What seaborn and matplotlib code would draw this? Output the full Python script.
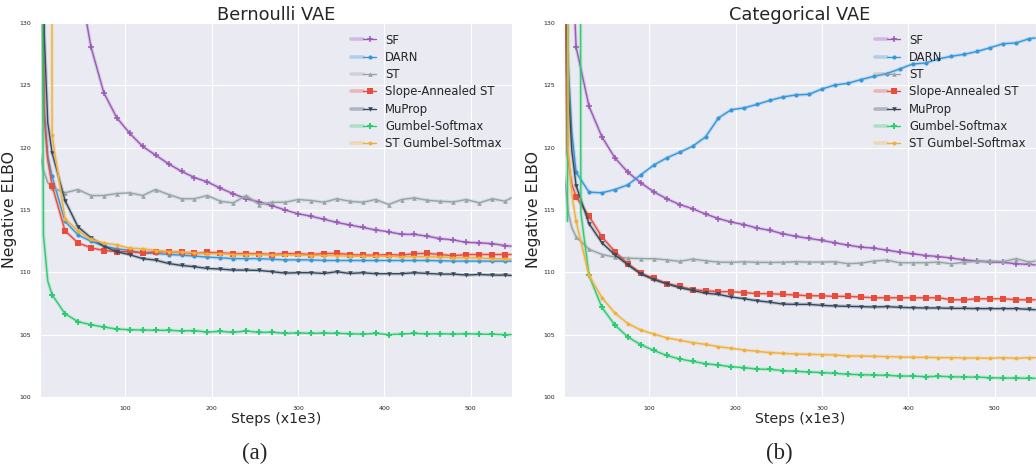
import numpy as np
import matplotlib
matplotlib.use("Agg")
import matplotlib.pyplot as plt
from matplotlib.lines import Line2D
from matplotlib.legend_handler import HandlerTuple
import seaborn as sns

# ---------------- data ----------------
STEPS = list(range(15, 541, 15))          # marker steps (x1e3)
END_STEP = 547
XLIM = (1, 548)
YLIM = (100, 130)
YTICKS = [100, 105, 110, 115, 120, 125, 130]
XTICKS = [100, 200, 300, 400, 500]

LABELS = ["SF", "DARN", "ST", "Slope-Annealed ST", "MuProp",
          "Gumbel-Softmax", "ST Gumbel-Softmax"]
COLORS = ["#9b59b6", "#3498db", "#95a5a6", "#e74c3c", "#34495e",
          "#2ecc71", "#f2b03a"]
MARKERS = ["+", "o", "^", "s", "v", "P", "p"]
MSIZES = [4.0, 3.0, 3.3, 4.2, 3.3, 4.2, 3.2]

# ---- Bernoulli VAE ----
bern_sf = [160, 142, 134, 128.1, 124.4, 122.4, 121.15, 120.1, 119.4, 118.7, 118.1, 117.6,
           117.25, 116.75, 116.3, 115.9, 115.65, 115.35, 115.0, 114.7, 114.5, 114.26, 114.0,
           113.8, 113.6, 113.4, 113.25, 113.05, 113.04, 112.9, 112.7, 112.6, 112.4, 112.37,
           112.3, 112.15]
bern_sf_extra_x, bern_sf_extra_y = [END_STEP], [112.1]

bern_darn = [117.7, 114.1, 113.0, 112.5, 112.1, 111.89, 111.75, 111.54, 111.52, 111.43,
             111.38, 111.3, 111.22, 111.17, 111.1, 111.1, 111.1, 111.05, 111.0, 111.0, 111.0,
             110.95, 110.95, 110.95, 110.95, 110.95, 110.95, 110.95, 110.95, 110.95, 110.93,
             110.9, 110.9, 110.9, 110.9, 110.9]
bern_darn_extra_x, bern_darn_extra_y = [3, 5.5, 10, END_STEP], [140, 123.5, 119.3, 110.9]

bern_st = [116.8, 116.38, 116.64, 116.16, 116.16, 116.32, 116.38, 116.16, 116.64, 116.24,
           115.9, 115.9, 116.16, 115.7, 115.57, 116.16, 115.44, 115.62, 115.62, 115.84,
           115.76, 115.62, 115.9, 115.7, 115.62, 115.84, 115.44, 115.84, 115.97, 115.78,
           115.7, 115.65, 115.84, 115.57, 115.9, 115.7]
bern_st_extra_x, bern_st_extra_y = [1, 5, 10, END_STEP], [119.5, 118.2, 117.2, 115.97]

bern_slope = [116.96, 113.33, 112.37, 111.97, 111.75, 111.67, 111.65, 111.57, 111.65,
              111.65, 111.6, 111.52, 111.6, 111.57, 111.5, 111.5, 111.5, 111.43, 111.5,
              111.5, 111.43, 111.5, 111.52, 111.43, 111.38, 111.38, 111.43, 111.38, 111.5,
              111.52, 111.43, 111.33, 111.43, 111.43, 111.43, 111.43]
bern_slope_extra_x, bern_slope_extra_y = [3, 6, 10, END_STEP], [140, 122.3, 119.0, 111.43]

bern_muprop = [119.6, 115.76, 113.65, 112.77, 112.1, 111.65, 111.41, 111.1, 110.98, 110.71,
               110.55, 110.45, 110.31, 110.26, 110.18, 110.18, 110.15, 110.05, 109.94,
               109.97, 109.97, 109.91, 110.05, 109.91, 109.97, 109.89, 109.89, 109.89,
               109.97, 109.91, 109.86, 109.86, 109.78, 109.83, 109.78, 109.78]
bern_muprop_extra_x, bern_muprop_extra_y = [3, 6, 10, END_STEP], [150, 129, 122, 109.75]

bern_gumbel = [108.2, 106.68, 106.04, 105.8, 105.61, 105.45, 105.4, 105.37, 105.35, 105.35,
               105.3, 105.33, 105.2, 105.27, 105.18, 105.3, 105.18, 105.2, 105.1, 105.15,
               105.1, 105.13, 105.1, 105.08, 105.03, 105.1, 105.0, 105.05, 105.1, 105.05,
               105.08, 105.03, 105.08, 105.03, 105.03, 105.0]
bern_gumbel_extra_x, bern_gumbel_extra_y = [2, 5, 10, END_STEP], [160, 113, 109.3, 105.0]

bern_stgumbel = [121.0, 114.3, 113.33, 112.64, 112.35, 112.2, 111.94, 111.89, 111.75,
                 111.67, 111.62, 111.57, 111.5, 111.5, 111.43, 111.43, 111.43, 111.38,
                 111.38, 111.38, 111.35, 111.35, 111.33, 111.3, 111.28, 111.28, 111.28,
                 111.25, 111.25, 111.25, 111.23, 111.17, 111.17, 111.15, 111.1, 111.09]
bern_stgumbel_extra_x, bern_stgumbel_extra_y = [14, END_STEP], [200, 111.05]

# ---- Categorical VAE ----
cat_sf = [128.08, 123.32, 120.86, 119.18, 118.03, 117.18, 116.46, 115.9, 115.44, 115.1,
          114.68, 114.31, 114.03, 113.82, 113.55, 113.36, 113.09, 112.88, 112.72, 112.56,
          112.37, 112.18, 112.02, 111.94, 111.78, 111.62, 111.49, 111.35, 111.27, 111.14,
          111.0, 110.9, 110.82, 110.8, 110.69, 110.63]
cat_sf_extra_x, cat_sf_extra_y = [8, END_STEP], [140, 110.6]

cat_darn = [118.03, 116.43, 116.38, 116.64, 117.02, 117.82, 118.6, 119.18, 119.63, 120.11,
            120.86, 122.38, 123.05, 123.19, 123.48, 123.8, 124.07, 124.23, 124.28, 124.71,
            125.03, 125.16, 125.46, 125.72, 125.94, 126.31, 126.71, 126.79, 127.12, 127.33,
            127.49, 127.72, 128.02, 128.34, 128.4, 128.74]
cat_darn_extra_x, cat_darn_extra_y = [2, 5, 10, END_STEP], [145, 128, 121.3, 128.8]

cat_st = [112.85, 111.85, 111.43, 111.22, 111.14, 111.1, 111.09, 111.0, 110.88, 111.06,
          110.93, 110.82, 110.8, 110.85, 110.8, 110.8, 110.8, 110.85, 110.82, 110.82,
          110.85, 110.69, 110.74, 110.9, 110.98, 110.77, 110.77, 110.77, 110.82, 110.69,
          110.8, 110.9, 110.9, 110.87, 111.09, 110.82]
cat_st_extra_x, cat_st_extra_y = [1, 6, 10, END_STEP], [118, 114.8, 113.6, 110.9]

cat_slope = [116.05, 114.5, 112.84, 111.66, 110.69, 109.94, 109.51, 109.1, 108.87, 108.61,
             108.53, 108.45, 108.45, 108.37, 108.29, 108.29, 108.23, 108.18, 108.12, 108.12,
             108.07, 108.07, 108.02, 107.96, 107.96, 107.96, 107.96, 107.96, 107.96, 107.8,
             107.8, 107.88, 107.88, 107.88, 107.8, 107.8]
cat_slope_extra_x, cat_slope_extra_y = [2, 4.5, 10, END_STEP], [135, 119.6, 117.1, 107.8]

cat_muprop = [116.96, 113.91, 112.37, 111.4, 110.6, 109.87, 109.42, 109.08, 108.77, 108.55,
              108.33, 108.23, 108.02, 107.88, 107.72, 107.6, 107.45, 107.43, 107.43, 107.35,
              107.3, 107.27, 107.25, 107.22, 107.25, 107.19, 107.16, 107.14, 107.14, 107.11,
              107.11, 107.09, 107.09, 107.09, 107.09, 107.03]
cat_muprop_extra_x, cat_muprop_extra_y = [2, 5, 10, END_STEP], [140, 126, 119.8, 107.0]

cat_gumbel = [170, 109.75, 107.18, 105.77, 104.81, 104.2, 103.74, 103.33, 103.05, 102.86,
              102.67, 102.56, 102.43, 102.35, 102.24, 102.22, 102.11, 102.06, 102.0, 101.96,
              101.9, 101.82, 101.79, 101.76, 101.74, 101.68, 101.68, 101.63, 101.66, 101.63,
              101.6, 101.6, 101.55, 101.52, 101.52, 101.5]
cat_gumbel_extra_x, cat_gumbel_extra_y = [5, 6.5, 19.5, 20.5, END_STEP], [114.1, 170, 170, 114.8, 101.5]

cat_stgumbel = [114.1, 109.75, 107.96, 106.73, 105.89, 105.37, 105.05, 104.75, 104.55,
                104.36, 104.22, 104.04, 103.9, 103.77, 103.66, 103.56, 103.5, 103.45, 103.42,
                103.4, 103.37, 103.29, 103.29, 103.26, 103.24, 103.21, 103.18, 103.18, 103.16,
                103.16, 103.13, 103.13, 103.1, 103.16, 103.1, 103.16]
cat_stgumbel_extra_x, cat_stgumbel_extra_y = [4, 6, 10, END_STEP], [150, 119.8, 116.3, 103.15]

PANELS = [
    ("Bernoulli VAE", [
        (bern_sf, bern_sf_extra_x, bern_sf_extra_y),
        (bern_darn, bern_darn_extra_x, bern_darn_extra_y),
        (bern_st, bern_st_extra_x, bern_st_extra_y),
        (bern_slope, bern_slope_extra_x, bern_slope_extra_y),
        (bern_muprop, bern_muprop_extra_x, bern_muprop_extra_y),
        (bern_gumbel, bern_gumbel_extra_x, bern_gumbel_extra_y),
        (bern_stgumbel, bern_stgumbel_extra_x, bern_stgumbel_extra_y),
    ]),
    ("Categorical VAE", [
        (cat_sf, cat_sf_extra_x, cat_sf_extra_y),
        (cat_darn, cat_darn_extra_x, cat_darn_extra_y),
        (cat_st, cat_st_extra_x, cat_st_extra_y),
        (cat_slope, cat_slope_extra_x, cat_slope_extra_y),
        (cat_muprop, cat_muprop_extra_x, cat_muprop_extra_y),
        (cat_gumbel, cat_gumbel_extra_x, cat_gumbel_extra_y),
        (cat_stgumbel, cat_stgumbel_extra_x, cat_stgumbel_extra_y),
    ]),
]
CAPTIONS = ["(a)", "(b)"]

# ---------------- drawing ----------------
sns.set_style("darkgrid")
plt.rcParams["font.family"] = ["DejaVu Sans"]

W, H = 1036, 466
fig = plt.figure(figsize=(W / 100, H / 100), dpi=100)
ax_rects = [
    [40 / W, 1 - 397 / H, 472 / W, 374 / H],
    [564 / W, 1 - 397 / H, 472 / W, 374 / H],
]
caption_x = [255 / W, 779 / W]

BAND_LW, BAND_ALPHA = 2.6, 0.22

for pi, (title, series) in enumerate(PANELS):
    ax = fig.add_axes(ax_rects[pi])
    handles = []
    for si, (body, ex, ey) in enumerate(series):
        pts = sorted(list(zip(STEPS, body)) + list(zip(ex, ey)), key=lambda p: p[0])
        xs = [p[0] for p in pts]
        ys = [p[1] for p in pts]
        mask = [x in STEPS for x in xs]
        c = COLORS[si]
        # pale band
        sns.lineplot(x=xs, y=ys, ax=ax, color=c, lw=BAND_LW, alpha=BAND_ALPHA,
                     sort=False, estimator=None, legend=False)
        mew = 1.1 if MARKERS[si] == "+" else 0.0
        sns.lineplot(x=xs, y=ys, ax=ax, color=c, lw=1.0, marker=MARKERS[si],
                     markersize=MSIZES[si], markevery=mask, markeredgecolor=c,
                     markerfacecolor=c, markeredgewidth=mew,
                     sort=False, estimator=None, legend=False)
        band_h = Line2D([], [], color=c, lw=BAND_LW, alpha=BAND_ALPHA + 0.1)
        line_h = Line2D([], [], color=c, lw=1.0, marker=MARKERS[si],
                        markersize=MSIZES[si], markeredgecolor=c, markerfacecolor=c,
                        markeredgewidth=mew)
        handles.append((band_h, line_h))

    ax.set_xlim(*XLIM)
    ax.set_ylim(*YLIM)
    ax.set_xticks(XTICKS)
    ax.set_yticks(YTICKS)
    ax.tick_params(labelsize=4.5, pad=3)
    ax.set_title(title, fontsize=12.8, pad=2)
    ax.set_xlabel("Steps (x1e3)", fontsize=10.2, labelpad=1)
    ax.set_ylabel("Negative ELBO", fontsize=11.3, labelpad=1.5)
    ax.legend(handles, LABELS, handler_map={tuple: HandlerTuple(ndivide=None, pad=0)},
              loc="upper right", frameon=False, fontsize=8.4, labelspacing=0.37,
              handlelength=2.1, handletextpad=0.8, borderaxespad=0.5)

    fig.text(caption_x[pi], 1 - 453 / H, CAPTIONS[pi], ha="center", va="center",
             fontsize=16.5, family=["Liberation Serif", "DejaVu Serif"])

fig.savefig("out.png", dpi=100)
